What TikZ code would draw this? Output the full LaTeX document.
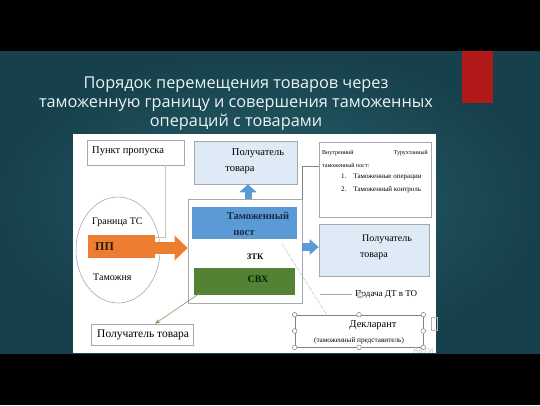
\documentclass[tikz,border=0pt]{standalone}
\usepackage{fontspec}
\setmainfont{Liberation Serif}
\newfontfamily\titlefont{Open Sans}
\usetikzlibrary{arrows.meta,shapes.geometric,calc}
\definecolor{tealhi}{RGB}{40,98,108}
\definecolor{teallo}{RGB}{22,64,76}
\definecolor{slidered}{RGB}{178,26,26}
\definecolor{boxgray}{RGB}{165,170,175}
\definecolor{lightblue}{RGB}{222,234,246}
\definecolor{postblue}{RGB}{91,155,213}
\definecolor{pporange}{RGB}{237,125,49}
\definecolor{svhgreen}{RGB}{84,130,53}
\definecolor{linktan}{RGB}{205,195,175}
\definecolor{navytext}{RGB}{30,40,70}
\begin{document}
\begin{tikzpicture}[x=1pt,y=-1pt,
    box/.style={draw=boxgray, line width=0.6pt, fill=white, inner sep=0pt},
    lbox/.style={box, fill=lightblue},
    txt/.style={inner sep=0pt, font=\fontsize{10}{11}\selectfont},
    small/.style={inner sep=0pt, font=\fontsize{6}{7}\selectfont},
    bold/.style={inner sep=0pt, font=\fontsize{8.5}{10}\selectfont\bfseries},
    block/.style={line width=#1, line cap=butt},
    handle/.style={draw=gray, fill=white, line width=0.5pt}]
  \useasboundingbox (0,0) rectangle (540,405);
  % slide background
  \fill[black] (0,0) rectangle (540,405);
  \shade[inner color=tealhi, outer color=teallo] (0,51) rectangle (540,353);
  \fill[slidered] (462,51) rectangle (493,103);
  \node[align=center, text=white!92!teal, font=\titlefont\fontsize{16.3}{19}\selectfont]
    (title) at (236,104) {Порядок перемещения товаров через\\таможенную границу и совершения таможенных\\операций с товарами};
  \fill[white] (73,134) rectangle (436,353);

  % boxes
  \node[box, minimum width=97pt, minimum height=25pt] (punkt) at (135.5,152.5) {};
  \node[txt, anchor=west, font=\fontsize{10.5}{11}\selectfont] (punkttxt) at (92,151) {Пункт пропуска};
  \node[lbox, minimum width=103pt, minimum height=43pt] (pol1) at (245.5,162.5) {};
  \node[txt, font=\fontsize{10.5}{11}\selectfont] (pol1a) at (258,153) {Получатель};
  \node[txt, font=\fontsize{10.5}{11}\selectfont] (pol1b) at (240,170) {товара};
  \node[box, minimum width=114pt, minimum height=104pt] (ztk) at (245,251) {};
  \node[fill=postblue, minimum width=105pt, minimum height=32pt, inner sep=0pt] (post) at (244.5,223) {};
  \node[bold, text=navytext, font=\fontsize{10.5}{11}\selectfont\bfseries] (posta) at (258,216) {Таможенный};
  \node[bold, text=navytext, font=\fontsize{10.5}{11}\selectfont\bfseries] (postb) at (244,233) {пост};
  \node[bold] (ztktxt) at (255,257) {ЗТК};
  \node[fill=svhgreen, minimum width=101pt, minimum height=27pt, inner sep=0pt] (svh) at (244.5,281.5) {};
  \node[bold, text=black!85!green, font=\fontsize{10}{11}\selectfont\bfseries] (svhtxt) at (258,279) {СВХ};

  \node[draw=boxgray, line width=0.6pt, ellipse, minimum width=84pt, minimum height=106pt, inner sep=0pt] (gran) at (118,250) {};
  \node[txt, anchor=west] (grantxt) at (92,222) {Граница ТС};
  \node[fill=pporange, minimum width=67pt, minimum height=23pt, inner sep=0pt] (pp) at (121.5,246.5) {};
  \node[inner sep=0pt, font=\fontsize{12}{13}\selectfont\bfseries, text=black!80!pporange, anchor=west] (pptxt) at (95,247) {ПП};
  \node[txt, anchor=west] (tamtxt) at (93,277) {Таможня};

  \node[box, minimum width=102pt, minimum height=21pt] (pol3) at (142,334.5) {};
  \node[txt, anchor=west, font=\fontsize{11.5}{12}\selectfont] (pol3txt) at (97,335) {Получатель товара};

  \node[box, minimum width=112pt, minimum height=75pt] (vnutr) at (375,179.5) {};
  \node[small, anchor=west] (vn1) at (322,153) {Внутренний};
  \node[small, anchor=east] (vn2) at (428,153) {Турухтанный};
  \node[small, anchor=west] (vn3) at (322,165) {таможенный пост:};
  \node[small, anchor=west, font=\fontsize{7}{8}\selectfont] (vn4) at (341,177) {1.\hspace{7pt}Таможенные операции};
  \node[small, anchor=west, font=\fontsize{7}{8}\selectfont] (vn5) at (341,190) {2.\hspace{7pt}Таможенный контроль};

  \node[lbox, minimum width=110pt, minimum height=52pt] (pol2) at (374,250) {};
  \node[txt] (pol2a) at (387,239) {Получатель};
  \node[txt] (pol2b) at (374,256) {товара};

  \node[draw=gray, line width=0.6pt, minimum width=128pt, minimum height=32pt, inner sep=0pt] (dekl) at (359,331) {};
  \node[txt, font=\fontsize{10.5}{11}\selectfont] (dekla) at (373,325) {Декларант};
  \node[small, font=\fontsize{7.2}{8}\selectfont] (deklb) at (359,341) {(таможенный представитель)};
  \node[txt, anchor=west, font=\fontsize{9}{10}\selectfont] (podacha) at (355,294) {Подача ДТ в ТО};

  % block arrows
  \draw[block=12pt, pporange, -{Triangle[length=13pt,width=24pt]}] (pp.east |- 0,248) -- (ztk.west |- 0,248);
  \draw[block=7pt, postblue, -{Triangle[length=8pt,width=17pt]}] (ztk.north -| 248,0) -- (pol1.south -| 248,0);
  \draw[block=8pt, postblue, -{Triangle[length=9pt,width=15pt]}] (ztk.east |- 0,247) -- (pol2.west |- 0,247);

  % connectors
  \draw[linktan, line width=0.6pt] ([xshift=29.5pt]punkt.south) |- ([yshift=-2pt]pp.north east);
  \draw[gray, line width=0.5pt] (ztk.north east) |- ([yshift=13.5pt]vnutr.west);
  \draw[svhgreen!80!white, line width=0.6pt, -{Stealth[length=5pt,width=4pt]}] ([xshift=6pt,yshift=2pt]svh.south west) -- ([xshift=13pt]pol3.north);
  \coordinate (dstart) at (282,244);
  \draw[gray, line width=0.5pt, densely dotted] (dstart) -- ($(dekl.north west)!0.25!(dekl.north east)$);
  \draw[gray!70, line width=0.5pt] ([xshift=-3pt]podacha.west) -- ++(-32,0);

  % selection handles
  \foreach \a in {north west,north,north east,west,east,south west,south,south east}
    \draw[handle] (dekl.\a) circle (2.3pt);
  \draw[handle] (360,295) circle (3pt);
  \draw[gray, line width=0.5pt] (360,295) ++(40:1.6pt) arc (40:330:1.6pt);
  \draw[gray!60, line width=0.5pt] (431,317) rectangle (437,330);
  \node[inner sep=0pt, text=gray!45, font=\titlefont\fontsize{9}{10}\selectfont, anchor=west] (akti) at (413,350) {Акти};
\end{tikzpicture}
\end{document}
